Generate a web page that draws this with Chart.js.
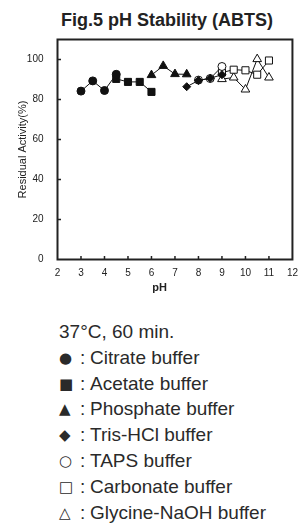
<!DOCTYPE html>
<html>
<head>
<meta charset="utf-8">
<script src="https://cdn.jsdelivr.net/npm/chart.js@4"></script>
<style>
  body { margin: 0; background: #fff; font-family: "Liberation Sans", Arial, sans-serif; color: #222; }
  #wrap { position: relative; width: 306px; height: 523px; overflow: hidden; }
  #title { position: absolute; left: 0; top: 9px; width: 334px; text-align: center; font-weight: bold; font-size: 18px; line-height: 22px; color: #222; }
  #canvas { position: absolute; left: 0; top: 0; }
  #legend { position: absolute; left: 59px; top: 319px; font-size: 19px; line-height: 25.8px; color: #2a2a2a; white-space: nowrap; }
  #legend div { height: 25.8px; }
  .sym { display: inline-block; width: 21px; font-family: "DejaVu Sans", sans-serif; font-size: 15px; line-height: 0; vertical-align: 1px; }
  .colon { display: inline-block; width: 10px; }
</style>
</head>
<body>
<div id="wrap">
  <div id="title">Fig.5 pH Stability (ABTS)</div>
  <canvas id="canvas" width="306" height="300"></canvas>
  <div id="legend"></div>
</div>
<script>
window.addEventListener("load", start);

// buffer names and the symbols used for them
const bufferNames = ["Citrate buffer", "Acetate buffer", "Phosphate buffer", "Tris-HCl buffer", "TAPS buffer", "Carbonate buffer", "Glycine-NaOH buffer"];
const bufferSymbols = ["●", "■", "▲", "◆", "○", "□", "△"];
const conditionText = "37°C, 60 min.";

// pH values and residual activity (%)
const citratePH = [3, 3.5, 4, 4.5];
const citrateActivity = [84.2, 89.3, 84.5, 92.6];
const acetatePH = [4.5, 5, 5.5, 6];
const acetateActivity = [90.3, 88.8, 88.8, 83.8];
const phosphatePH = [6, 6.5, 7, 7.5];
const phosphateActivity = [92.2, 96.8, 92.7, 92.6];
const trisPH = [7.5, 8, 8.5, 9];
const trisActivity = [86.4, 89.5, 90.6, 92.4];
const tapsPH = [8, 8.5, 9];
const tapsActivity = [89.7, 90.5, 96.5];
const carbonatePH = [9, 9.5, 10, 10.5, 11];
const carbonateActivity = [93.5, 94.9, 94.6, 92.4, 99.5];
const glycinePH = [9, 9.5, 10, 10.5, 11];
const glycineActivity = [90.2, 91, 85, 100.2, 91];

const yTicks = [0, 20, 40, 60, 80, 100];

function toPoints(xs, ys) {
  return xs.map((x, i) => ({ x: x, y: ys[i] }));
}

function makeSet(i, xs, ys, style, filled, radius) {
  return {
    label: bufferNames[i],
    data: toPoints(xs, ys),
    showLine: true,
    borderColor: '#111',
    borderWidth: 1,
    pointStyle: style,
    pointRadius: radius,
    pointBorderWidth: 1,
    pointBorderColor: '#111',
    pointBackgroundColor: filled ? '#111' : '#fff',
    backgroundColor: filled ? '#111' : '#fff'
  };
}

// box round the plot and the small inward ticks
const framePlugin = {
  id: 'frame',
  beforeDatasetsDraw(chart) {
    const ctx = chart.ctx;
    const a = chart.chartArea;
    const xs = chart.scales.x;
    const ys = chart.scales.y;
    ctx.save();
    ctx.strokeStyle = '#222';
    ctx.lineWidth = 1.5;
    ctx.beginPath();
    for (let v = 3; v <= 11; v++) {
      const px = xs.getPixelForValue(v);
      ctx.moveTo(px, a.bottom);
      ctx.lineTo(px, a.bottom - 3.5);
    }
    yTicks.slice(1).forEach(v => {
      const py = ys.getPixelForValue(v);
      ctx.moveTo(a.left, py);
      ctx.lineTo(a.left + 3.5, py);
    });
    ctx.stroke();
    ctx.lineWidth = 2;
    ctx.strokeRect(a.left, a.top, a.right - a.left, a.bottom - a.top);
    // x axis title sits a bit left of centre in the original
    ctx.fillStyle = '#222';
    ctx.font = 'bold 11px "Liberation Sans", Arial, sans-serif';
    ctx.textAlign = 'center';
    ctx.textBaseline = 'middle';
    ctx.fillText('pH', xs.getPixelForValue(6.35), 288);
    ctx.restore();
  }
};

function start() {
  const ctx = document.getElementById('canvas').getContext('2d');
  const data = {
    datasets: [
      makeSet(0, citratePH, citrateActivity, 'circle', true, 4),
      makeSet(1, acetatePH, acetateActivity, 'rect', true, 5),
      makeSet(2, phosphatePH, phosphateActivity, 'triangle', true, 5),
      makeSet(3, trisPH, trisActivity, 'rectRot', true, 4),
      makeSet(4, tapsPH, tapsActivity, 'circle', false, 4),
      makeSet(5, carbonatePH, carbonateActivity, 'rect', false, 5),
      makeSet(6, glycinePH, glycineActivity, 'triangle', false, 5)
    ]
  };
  new Chart(ctx, {
    type: 'scatter',
    data: data,
    options: {
      responsive: false,
      animation: false,
      layout: { padding: { top: 39.5, right: 7, left: 0, bottom: 0 } },
      plugins: {
        legend: { display: false },
        tooltip: { enabled: false }
      },
      scales: {
        x: {
          type: 'linear',
          min: 2,
          max: 12,
          grid: { display: false, drawTicks: false },
          border: { display: false },
          ticks: { stepSize: 1, color: '#222', padding: 8, font: { size: 10, family: '"Liberation Sans", Arial, sans-serif' } },
          afterFit(scale) { scale.height = 40.5; }
        },
        y: {
          min: 0,
          max: 110,
          grid: { display: false, drawTicks: false },
          border: { display: false },
          ticks: { stepSize: 20, color: '#222', padding: 14, font: { size: 10, family: '"Liberation Sans", Arial, sans-serif' } },
          afterBuildTicks(scale) {
            scale.ticks = yTicks.map(v => ({ value: v }));
          },
          title: {
            display: true,
            text: 'Residual Activity(%)',
            color: '#222',
            padding: { top: 16, bottom: 0 },
            font: { size: 11, family: '"Liberation Sans", Arial, sans-serif' }
          },
          afterFit(scale) { scale.width = 57.5; }
        }
      }
    },
    plugins: [framePlugin]
  });

  // legend text under the chart
  const legend = document.getElementById('legend');
  let html = '<div>' + conditionText + '</div>';
  bufferNames.forEach((name, i) => {
    html += '<div><span class="sym">' + bufferSymbols[i] + '</span><span class="colon">:</span>' + name + '</div>';
  });
  legend.innerHTML = html;
}
</script>
</body>
</html>
